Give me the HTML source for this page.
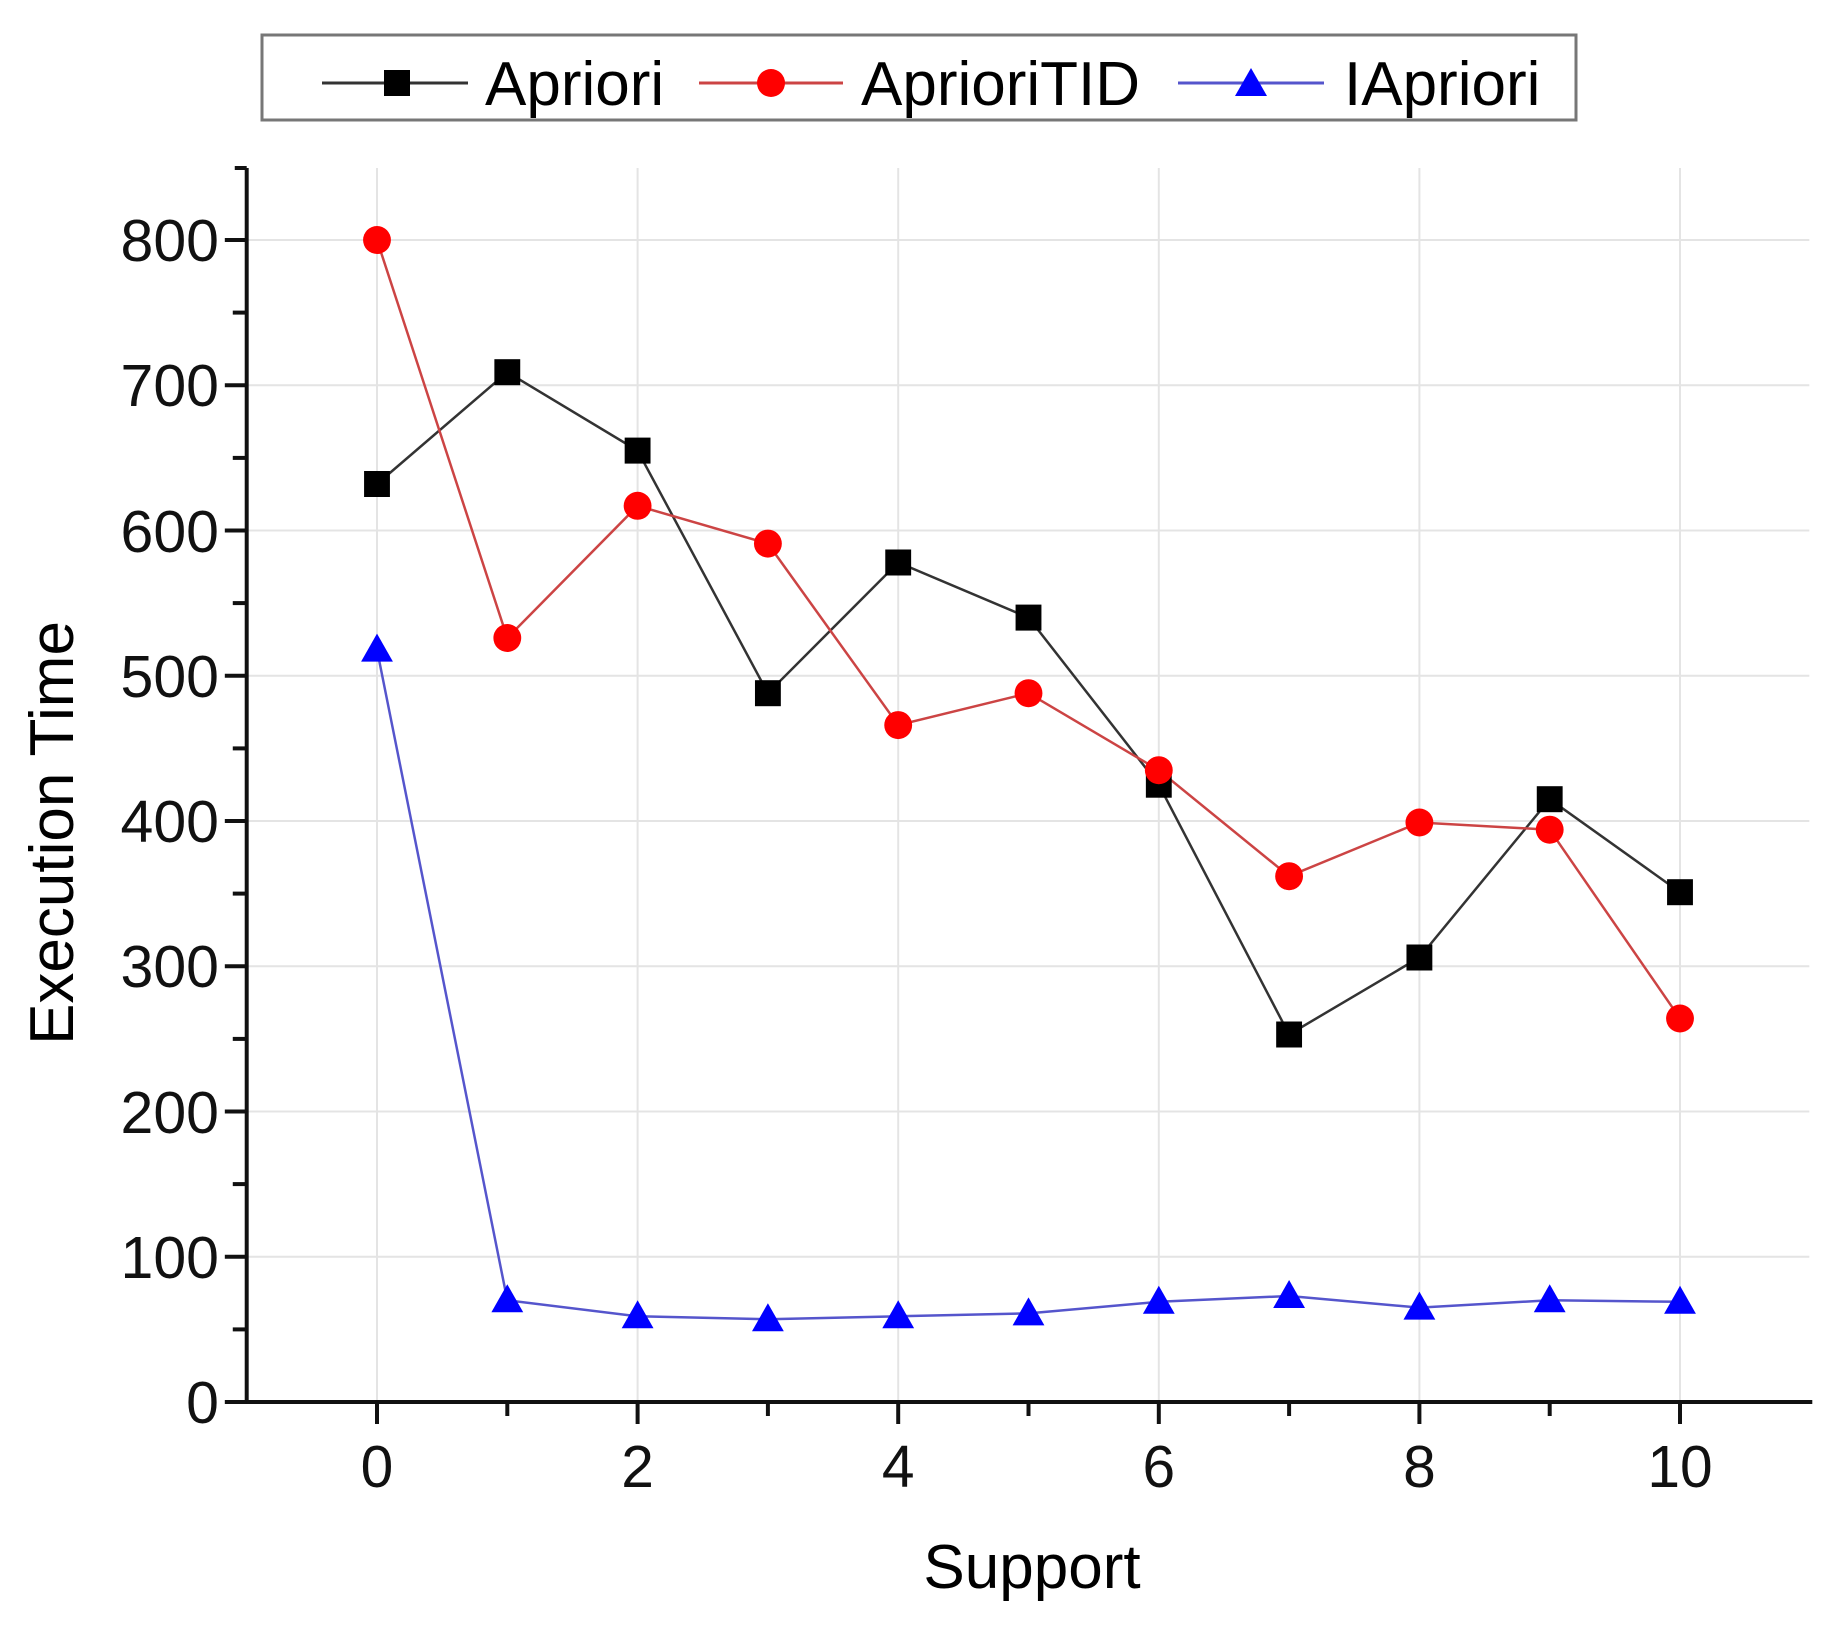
<!DOCTYPE html>
<html><head><meta charset="utf-8"><style>body{margin:0;background:#fff}svg{display:block}</style></head>
<body>
<svg width="1847" height="1630" viewBox="0 0 1847 1630" xmlns="http://www.w3.org/2000/svg" font-family="Liberation Sans, Arial, sans-serif">
<rect width="1847" height="1630" fill="#fff"/>
<g transform="translate(377,0) scale(0.99466,1) translate(-377,0)">
<g stroke="#e4e4e4" stroke-width="2">
<line x1="377" y1="168" x2="377" y2="1402"/><line x1="639" y1="168" x2="639" y2="1402"/><line x1="901" y1="168" x2="901" y2="1402"/><line x1="1163" y1="168" x2="1163" y2="1402"/><line x1="1425" y1="168" x2="1425" y2="1402"/><line x1="1687" y1="168" x2="1687" y2="1402"/>
<line x1="246" y1="1256.75" x2="1817" y2="1256.75"/><line x1="246" y1="1111.5" x2="1817" y2="1111.5"/><line x1="246" y1="966.25" x2="1817" y2="966.25"/><line x1="246" y1="821" x2="1817" y2="821"/><line x1="246" y1="675.75" x2="1817" y2="675.75"/><line x1="246" y1="530.5" x2="1817" y2="530.5"/><line x1="246" y1="385.25" x2="1817" y2="385.25"/><line x1="246" y1="240" x2="1817" y2="240"/>
</g>
<g stroke="#111" stroke-width="4" fill="none">
<line x1="246" y1="168" x2="246" y2="1404"/><line x1="244" y1="1402" x2="1820" y2="1402"/><line x1="246" y1="168" x2="234" y2="168"/>
<line x1="246" y1="1402" x2="224" y2="1402"/><line x1="246" y1="1329.4" x2="232" y2="1329.4"/><line x1="246" y1="1256.75" x2="224" y2="1256.75"/><line x1="246" y1="1184.1" x2="232" y2="1184.1"/><line x1="246" y1="1111.5" x2="224" y2="1111.5"/><line x1="246" y1="1038.9" x2="232" y2="1038.9"/><line x1="246" y1="966.25" x2="224" y2="966.25"/><line x1="246" y1="893.6" x2="232" y2="893.6"/><line x1="246" y1="821" x2="224" y2="821"/><line x1="246" y1="748.4" x2="232" y2="748.4"/><line x1="246" y1="675.75" x2="224" y2="675.75"/><line x1="246" y1="603.1" x2="232" y2="603.1"/><line x1="246" y1="530.5" x2="224" y2="530.5"/><line x1="246" y1="457.9" x2="232" y2="457.9"/><line x1="246" y1="385.25" x2="224" y2="385.25"/><line x1="246" y1="312.6" x2="232" y2="312.6"/><line x1="246" y1="240" x2="224" y2="240"/>
<line x1="377" y1="1402" x2="377" y2="1424"/><line x1="508" y1="1402" x2="508" y2="1416"/><line x1="639" y1="1402" x2="639" y2="1424"/><line x1="770" y1="1402" x2="770" y2="1416"/><line x1="901" y1="1402" x2="901" y2="1424"/><line x1="1032" y1="1402" x2="1032" y2="1416"/><line x1="1163" y1="1402" x2="1163" y2="1424"/><line x1="1294" y1="1402" x2="1294" y2="1416"/><line x1="1425" y1="1402" x2="1425" y2="1424"/><line x1="1556" y1="1402" x2="1556" y2="1416"/><line x1="1687" y1="1402" x2="1687" y2="1424"/>
</g>
<g font-size="59" fill="#111" text-anchor="middle">
<text x="377" y="1487">0</text><text x="639" y="1487">2</text><text x="901" y="1487">4</text><text x="1163" y="1487">6</text><text x="1425" y="1487">8</text><text x="1687" y="1487">10</text>
</g>
<polyline fill="none" stroke="#333" stroke-width="2.5" points="377,484 508,372.2 639,450.6 770,693.2 901,562.5 1032,617.6 1163,784.7 1294,1034.5 1425,957.5 1556,799.2 1687,892.2"/>
<polyline fill="none" stroke="#c44" stroke-width="2.5" points="377,240 508,638 639,505.8 770,543.6 901,725.1 1032,693.2 1163,770.2 1294,876.2 1425,822.5 1556,829.7 1687,1018.5"/>
<polyline fill="none" stroke="#55c" stroke-width="2.5" points="377,649.6 508,1300.3 639,1316.3 770,1319.2 901,1316.3 1032,1313.4 1163,1301.8 1294,1296 1425,1307.6 1556,1300.3 1687,1301.8"/>
<g fill="#000">
<rect x="364" y="471" width="26" height="26"/><rect x="495" y="359.2" width="26" height="26"/><rect x="626" y="437.6" width="26" height="26"/><rect x="757" y="680.2" width="26" height="26"/><rect x="888" y="549.5" width="26" height="26"/><rect x="1019" y="604.6" width="26" height="26"/><rect x="1150" y="771.7" width="26" height="26"/><rect x="1281" y="1021.5" width="26" height="26"/><rect x="1412" y="944.5" width="26" height="26"/><rect x="1543" y="786.2" width="26" height="26"/><rect x="1674" y="879.2" width="26" height="26"/>
</g>
<g fill="#f00">
<circle cx="377" cy="240" r="14"/><circle cx="508" cy="638" r="14"/><circle cx="639" cy="505.8" r="14"/><circle cx="770" cy="543.6" r="14"/><circle cx="901" cy="725.1" r="14"/><circle cx="1032" cy="693.2" r="14"/><circle cx="1163" cy="770.2" r="14"/><circle cx="1294" cy="876.2" r="14"/><circle cx="1425" cy="822.5" r="14"/><circle cx="1556" cy="829.7" r="14"/><circle cx="1687" cy="1018.5" r="14"/>
</g>
<g fill="#00f">
<polygon points="377,633.6 393,661.6 361,661.6"/><polygon points="508,1284.3 524,1312.3 492,1312.3"/><polygon points="639,1300.3 655,1328.3 623,1328.3"/><polygon points="770,1303.2 786,1331.2 754,1331.2"/><polygon points="901,1300.3 917,1328.3 885,1328.3"/><polygon points="1032,1297.4 1048,1325.4 1016,1325.4"/><polygon points="1163,1285.8 1179,1313.8 1147,1313.8"/><polygon points="1294,1280 1310,1308 1278,1308"/><polygon points="1425,1291.6 1441,1319.6 1409,1319.6"/><polygon points="1556,1284.3 1572,1312.3 1540,1312.3"/><polygon points="1687,1285.8 1703,1313.8 1671,1313.8"/>
</g>
</g>
<g font-size="59" fill="#111" text-anchor="end">
<text x="219" y="1423">0</text><text x="219" y="1278">100</text><text x="219" y="1133">200</text><text x="219" y="987">300</text><text x="219" y="842">400</text><text x="219" y="697">500</text><text x="219" y="552">600</text><text x="219" y="406">700</text><text x="219" y="261">800</text>
</g>
<rect x="262" y="35" width="1314" height="85" fill="#fff" stroke="#777" stroke-width="3"/>
<line x1="322" y1="83" x2="468" y2="83" stroke="#333" stroke-width="3"/>
<rect x="384" y="70" width="26" height="26" fill="#000"/>
<text x="485" y="105" font-size="62" fill="#000">Apriori</text>
<line x1="699" y1="83" x2="843" y2="83" stroke="#c44" stroke-width="3"/>
<circle cx="771" cy="83" r="14" fill="#f00"/>
<text x="861" y="105" font-size="62" fill="#000">AprioriTID</text>
<line x1="1178" y1="83" x2="1324" y2="83" stroke="#55c" stroke-width="3"/>
<polygon points="1251,68 1267,96 1235,96" fill="#00f"/>
<text x="1344" y="105" font-size="62" fill="#000">IApriori</text>
<text x="1032" y="1588" font-size="62" text-anchor="middle" fill="#000">Support</text>
<text transform="translate(73,833) rotate(-90)" font-size="62" text-anchor="middle" fill="#000">Execution Time</text>
</svg>
</body></html>
